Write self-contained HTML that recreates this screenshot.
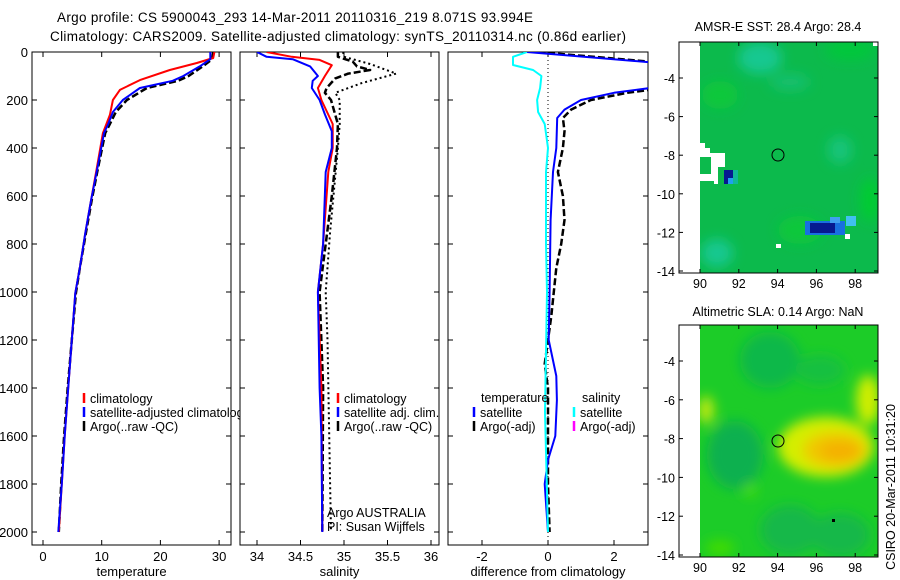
<!DOCTYPE html>
<html><head><meta charset="utf-8"><style>
html,body{margin:0;padding:0;background:#fff;}
svg{display:block;font-family:"Liberation Sans",sans-serif;}
</style></head><body>
<svg id="fig" width="900" height="580" viewBox="0 0 900 580">
<defs>
<filter id="blur6" x="-50%" y="-50%" width="200%" height="200%"><feGaussianBlur stdDeviation="6"/></filter>
<filter id="blur3" x="-50%" y="-50%" width="200%" height="200%"><feGaussianBlur stdDeviation="3"/></filter>
<clipPath id="clipTop"><rect x="700" y="42" width="178" height="231"/></clipPath>
<clipPath id="clipBot"><rect x="700" y="325" width="178" height="232"/></clipPath>
</defs>
<rect width="900" height="580" fill="#fff"/>
<text x="295" y="22" text-anchor="middle" font-size="13.5" textLength="476">Argo profile: CS 5900043_293 14-Mar-2011 20110316_219 8.071S 93.994E</text>
<text x="338" y="41" text-anchor="middle" font-size="13.5" textLength="576">Climatology: CARS2009. Satellite-adjusted climatology: synTS_20110314.nc (0.86d earlier)</text>

<!-- Top map -->
<g>
<text x="778" y="31" text-anchor="middle" font-size="12.5">AMSR-E SST: 28.4 Argo: 28.4</text>
<g clip-path="url(#clipTop)">
<rect x="700" y="42" width="178" height="231" fill="#0cba4c"/>
<g filter="url(#blur6)">
<ellipse cx="760" cy="58" rx="22" ry="16" fill="#14c890"/>
<ellipse cx="717" cy="253" rx="16" ry="14" fill="#14c890"/>
<ellipse cx="840" cy="150" rx="12" ry="14" fill="#12c47a"/>
<ellipse cx="720" cy="95" rx="18" ry="14" fill="#10c83a"/>
<ellipse cx="800" cy="230" rx="22" ry="14" fill="#10c83a"/>
<ellipse cx="870" cy="200" rx="10" ry="22" fill="#06cc30"/>
<ellipse cx="850" cy="50" rx="25" ry="10" fill="#06c83a"/>
<ellipse cx="790" cy="82" rx="20" ry="8" fill="#12c070"/>
</g>
<rect x="846" y="216" width="10" height="10" fill="#40c0f0"/>
<rect x="805" y="221" width="40" height="14" fill="#1870e0"/>
<rect x="810" y="223" width="25" height="10" fill="#061a90"/>
<rect x="830" y="217" width="10" height="6" fill="#40a0f0"/>
<rect x="845" y="234" width="5" height="5" fill="#fff"/>
<rect x="776" y="244" width="5" height="4" fill="#fff"/>
<rect x="873" y="42" width="5" height="4" fill="#fff"/>
</g>
<rect x="679" y="42" width="21" height="231" fill="#fff"/>
<polygon points="700,143 705,143 705,148 710,148 710,153 725,153 725,167 718,167 718,184 714,184 714,181 700,181 700,174 711,174 711,157 700,157" fill="#fff"/>
<rect x="724" y="170" width="9" height="14" fill="#061a90"/>
<rect x="728" y="178" width="5" height="6" fill="#20a0f0"/>
<rect x="733" y="170" width="5" height="14" fill="#10b898"/>
<circle cx="778" cy="155" r="6" fill="none" stroke="#000" stroke-width="1"/>
<rect x="679" y="42" width="199" height="231" fill="none" stroke="#000" stroke-width="1"/>
<g id="topMapTicks"></g>
</g>

<!-- Bottom map -->
<g>
<text x="778" y="316" text-anchor="middle" font-size="12.5">Altimetric SLA: 0.14 Argo: NaN</text>
<g clip-path="url(#clipBot)">
<rect x="700" y="325" width="178" height="232" fill="#1ccc28"/>
<g filter="url(#blur6)">
<ellipse cx="770" cy="360" rx="30" ry="28" fill="#10b848"/>
<ellipse cx="735" cy="455" rx="28" ry="34" fill="#10b050"/>
<ellipse cx="790" cy="530" rx="30" ry="25" fill="#12b84a"/>
<ellipse cx="840" cy="535" rx="30" ry="22" fill="#12b84a"/>
<ellipse cx="820" cy="370" rx="25" ry="15" fill="#16c040"/>
<ellipse cx="826" cy="447" rx="48" ry="30" fill="#d4ee00"/>
<ellipse cx="868" cy="400" rx="12" ry="25" fill="#d0ee00"/>
<ellipse cx="706" cy="410" rx="8" ry="14" fill="#c0ea10"/>
<ellipse cx="835" cy="450" rx="32" ry="18" fill="#f0c800"/>
<ellipse cx="840" cy="451" rx="20" ry="10" fill="#f4b000"/>
<ellipse cx="720" cy="548" rx="15" ry="8" fill="#40dc00"/>
<ellipse cx="750" cy="490" rx="6" ry="6" fill="#50e000"/>
</g>
<rect x="832" y="519" width="3" height="3" fill="#000"/>
</g>
<rect x="679" y="325" width="21" height="232" fill="#fff"/>
<circle cx="778" cy="441" r="6" fill="none" stroke="#000" stroke-width="1"/>
<rect x="679" y="325" width="199" height="232" fill="none" stroke="#000" stroke-width="1"/>
<g id="botMapTicks"></g>
</g>
<text transform="translate(895,487) rotate(-90)" text-anchor="middle" font-size="12.5">CSIRO 20-Mar-2011 10:31:20</text>

<g id="profiles"></g>
</svg>
<script>
// ---- data ----
const tempClimDepth = [0,25,46,75,117,158,200,262,338,479,617,754,896,1004,1200,1400,1600,1800,2000];
const tempClim = [29.2,29.0,26.2,21.6,16.5,13.1,11.9,11.4,10.2,9.2,8.2,7.2,6.3,5.5,4.9,4.3,3.7,3.2,2.7];
const tempSatDepth = [0,30,60,100,120,150,200,250,300,338,479,617,754,896,1004,1200,1400,1600,1800,2000];
const tempSat = [28.5,28.5,26.7,23.9,22.1,16.5,13.6,11.9,11.1,10.4,9.3,8.2,7.2,6.3,5.5,4.9,4.3,3.7,3.2,2.6];
const tempArgoDepth = [0,30,60,100,120,150,200,250,300,338,479,617,754,896,1004,1200,1400,1600,1800,2000];
const tempArgo = [29.0,28.8,27.2,24.8,23.0,17.7,14.3,12.4,11.4,10.6,9.4,8.3,7.3,6.3,5.6,4.9,4.2,3.6,3.1,2.7];

const salClimDepth = [0,20,33,55,100,150,200,300,400,500,800,1000,1400,2000];
const salClim = [34.11,34.4,34.72,34.86,34.78,34.7,34.74,34.87,34.87,34.82,34.76,34.7,34.74,34.75];
const salSatDepth = [0,20,30,60,100,120,150,200,260,330,400,500,800,1000,1400,1600,2000];
const salSat = [34.0,34.11,34.41,34.61,34.7,34.64,34.63,34.72,34.78,34.86,34.86,34.79,34.76,34.7,34.72,34.74,34.75];
const salArgoDepth = [0,20,40,60,75,90,110,150,170,200,300,400,600,1000,1400,2000];
const salArgo = [34.93,34.93,35.1,35.15,35.3,35.05,34.9,34.8,34.78,34.85,34.93,34.92,34.86,34.72,34.76,34.75];
const salRawDepth = [0,20,50,90,130,170,200,300,400,750,1000,1200,1800,2000];
const salRaw = [34.99,35.0,35.3,35.6,35.2,34.9,34.95,34.95,34.93,34.84,34.79,34.81,34.84,34.85];

const dTSatDepth = [0,50,100,150,170,200,240,275,400,500,700,1000,1200,1350,1450,1600,1700,1800,2000];
const dTSat = [-0.64,3.7,5,3.1,2,1.0,0.5,0.28,0.25,0.15,0.08,0.05,0.02,0.25,0.27,0.22,0,-0.1,0];
const dTArgoDepth = [0,50,100,150,170,200,240,275,330,400,500,600,700,800,900,1100,1300,1400,1600,1800,2000];
const dTArgo = [-0.3,3.9,5.5,3.5,2.4,1.3,0.7,0.45,0.5,0.45,0.3,0.45,0.5,0.4,0.25,0.1,-0.1,0,0,0,0.05];
const dSSatDepth = [0,20,54,75,100,150,200,250,300,400,500,800,1000,1500,2000];
const dSSat = [-0.64,-1.06,-1.06,-0.45,-0.2,-0.24,-0.33,-0.3,-0.1,0,-0.06,-0.06,-0.03,-0.09,0];

const depthTicks = [0,200,400,600,800,1000,1200,1400,1600,1800,2000];
const tempTicks = [0,10,20,30];
const salTicks = ["34","34.5","35","35.5","36"];
const diffTicks = [-2,0,2];
const lonTicks = [90,92,94,96,98];
const latTicks = [-4,-6,-8,-10,-12,-14];

// ---- layout ----
const NS = "http://www.w3.org/2000/svg";
const TOP = 52, BOT = 545;
const yD = d => TOP + d * 0.24;
const xT = v => 43 + (v - 0) * 5.87;
const xS = v => 257 + (v - 34) * 87;
const xDf = v => 548 + v * 33;
const root = document.getElementById('profiles');

function el(tag, attrs, parent) {
  const e = document.createElementNS(NS, tag);
  for (const k in attrs) e.setAttribute(k, attrs[k]);
  (parent || root).appendChild(e);
  return e;
}
function pathOf(depths, vals, xf) {
  return depths.map((d, i) => (i ? 'L' : 'M') + xf(vals[i]).toFixed(1) + ',' + yD(d).toFixed(1)).join('');
}
function clip(id, x0, x1) {
  const defs = document.querySelector('defs');
  const cp = document.createElementNS(NS, 'clipPath'); cp.setAttribute('id', id);
  const r = document.createElementNS(NS, 'rect');
  r.setAttribute('x', x0); r.setAttribute('y', TOP); r.setAttribute('width', x1 - x0); r.setAttribute('height', BOT - TOP);
  cp.appendChild(r); defs.appendChild(cp);
}
function panel(name, x0, x1, ticks, xf, xlabel) {
  const g = el('g', {});
  
  
  el('rect', {x: x0, y: TOP, width: x1 - x0, height: BOT - TOP, fill: 'none', stroke: '#000', 'stroke-width': 1}, g);
  depthTicks.forEach(d => {
    el('line', {x1: x0, x2: x0 + 5, y1: yD(d), y2: yD(d), stroke: '#000'}, g);
    el('line', {x1: x1 - 5, x2: x1, y1: yD(d), y2: yD(d), stroke: '#000'}, g);
  });
  ticks.forEach(t => {
    const x = xf(+t);
    el('line', {x1: x, x2: x, y1: TOP, y2: TOP + 5, stroke: '#000'}, g);
    el('line', {x1: x, x2: x, y1: BOT - 5, y2: BOT, stroke: '#000'}, g);
    const tx = el('text', {x: x, y: BOT + 16, 'text-anchor': 'middle', 'font-size': 13}, g);
    tx.textContent = String(t);
    
    
  });
  const xl = el('text', {x: (x0 + x1) / 2, y: 576, 'text-anchor': 'middle', 'font-size': 13}, g);
  xl.textContent = xlabel;
  
  
  return g;
}
function series(g, name, depths, vals, xf, color, dash, width, cid) {
  const p = el('path', {d: pathOf(depths, vals, xf), fill: 'none', stroke: color, 'stroke-width': width, 'stroke-dasharray': dash || 'none', 'clip-path': 'url(#' + cid + ')', 'stroke-linejoin': 'round'}, g);
  
  
}
function legend(g, x, y, color, label) {
  const m = el('line', {x1: x, x2: x, y1: y - 10, y2: y, stroke: color, 'stroke-width': 2.5}, g);
  
  
  const t = el('text', {x: x + 6, y: y, 'font-size': 12.5}, g);
  t.textContent = label;
  
  
}

clip('c1', 32, 231); clip('c2', 240, 439); clip('c3', 448, 648);

depthTicks.forEach(d => {
  const t = el('text', {x: 28, y: yD(d) + 5, 'text-anchor': 'end', 'font-size': 13});
  t.textContent = d;
  
  
});

const g1 = panel('temperature', 32, 231, tempTicks, xT, 'temperature');
series(g1, 'temp-argo-line', tempArgoDepth, tempArgo, xT, '#000', '7,3', 2.5, 'c1');
series(g1, 'temp-climatology-line', tempClimDepth, tempClim, xT, '#f00', '', 2, 'c1');
series(g1, 'temp-satellite-line', tempSatDepth, tempSat, xT, '#00f', '', 2, 'c1');
legend(g1, 84, 403, '#f00', 'climatology');
legend(g1, 84, 417, '#00f', 'satellite-adjusted climatology');
legend(g1, 84, 431, '#000', 'Argo(..raw -QC)');
el('rect', {x: 240, y: 405, width: 40, height: 16, fill: '#fff'});

const g2 = panel('salinity', 240, 439, salTicks, xS, 'salinity');
series(g2, 'sal-raw-line', salRawDepth, salRaw, xS, '#000', '2,3', 2, 'c2');
series(g2, 'sal-argo-line', salArgoDepth, salArgo, xS, '#000', '7,3', 2.5, 'c2');
series(g2, 'sal-climatology-line', salClimDepth, salClim, xS, '#f00', '', 2, 'c2');
series(g2, 'sal-satellite-line', salSatDepth, salSat, xS, '#00f', '', 2, 'c2');
legend(g2, 338, 403, '#f00', 'climatology');
legend(g2, 338, 417, '#00f', 'satellite adj. clim.');
legend(g2, 338, 431, '#000', 'Argo(..raw -QC)');
const a1 = el('text', {x: 327, y: 517, 'font-size': 12.5}, g2); a1.textContent = 'Argo AUSTRALIA';
 
const a2 = el('text', {x: 327, y: 531, 'font-size': 12.5}, g2); a2.textContent = 'PI: Susan Wijffels';
 

const g3 = panel('difference', 448, 648, diffTicks, xDf, 'difference from climatology');
el('line', {x1: xDf(0), x2: xDf(0), y1: TOP, y2: BOT, stroke: '#000', 'stroke-dasharray': '1,3'}, g3);
series(g3, 'diff-temp-argo-line', dTArgoDepth, dTArgo, xDf, '#000', '7,3', 2.5, 'c3');
series(g3, 'diff-temp-satellite-line', dTSatDepth, dTSat, xDf, '#00f', '', 2, 'c3');
series(g3, 'diff-sal-satellite-line', dSSatDepth, dSSat, xDf, '#0ff', '', 2, 'c3');
const lt = el('text', {x: 481, y: 402, 'font-size': 12.5}, g3); lt.textContent = 'temperature';
 
const ls = el('text', {x: 582, y: 402, 'font-size': 12.5}, g3); ls.textContent = 'salinity';
 
legend(g3, 474, 417, '#00f', 'satellite');
legend(g3, 474, 431, '#000', 'Argo(-adj)');
legend(g3, 574, 417, '#0ff', 'satellite');
legend(g3, 574, 431, '#f0f', 'Argo(-adj)');

function mapTicks(gid, top, bottom) {
  const g = document.getElementById(gid);
  const xL = v => 700 + (v - 90) * 19.4;
  const yL = v => (bottom - 2) + (v + 14) * (-(bottom - 2 - (top + 36)) / 10);
  lonTicks.forEach(v => {
    el('line', {x1: xL(v), x2: xL(v), y1: top, y2: top + 4, stroke: '#000'}, g);
    el('line', {x1: xL(v), x2: xL(v), y1: bottom - 4, y2: bottom, stroke: '#000'}, g);
    const t = el('text', {x: xL(v), y: bottom + 15, 'text-anchor': 'middle', 'font-size': 12.5}, g);
    t.textContent = v;
    
    
  });
  latTicks.forEach(v => {
    el('line', {x1: 679, x2: 683, y1: yL(v), y2: yL(v), stroke: '#000'}, g);
    el('line', {x1: 874, x2: 878, y1: yL(v), y2: yL(v), stroke: '#000'}, g);
    const t = el('text', {x: 675, y: yL(v) + 5, 'text-anchor': 'end', 'font-size': 12.5}, g);
    t.textContent = v;
    
    
  });
}
mapTicks('topMapTicks', 42, 273);
mapTicks('botMapTicks', 325, 557);
</script>
</body></html>
